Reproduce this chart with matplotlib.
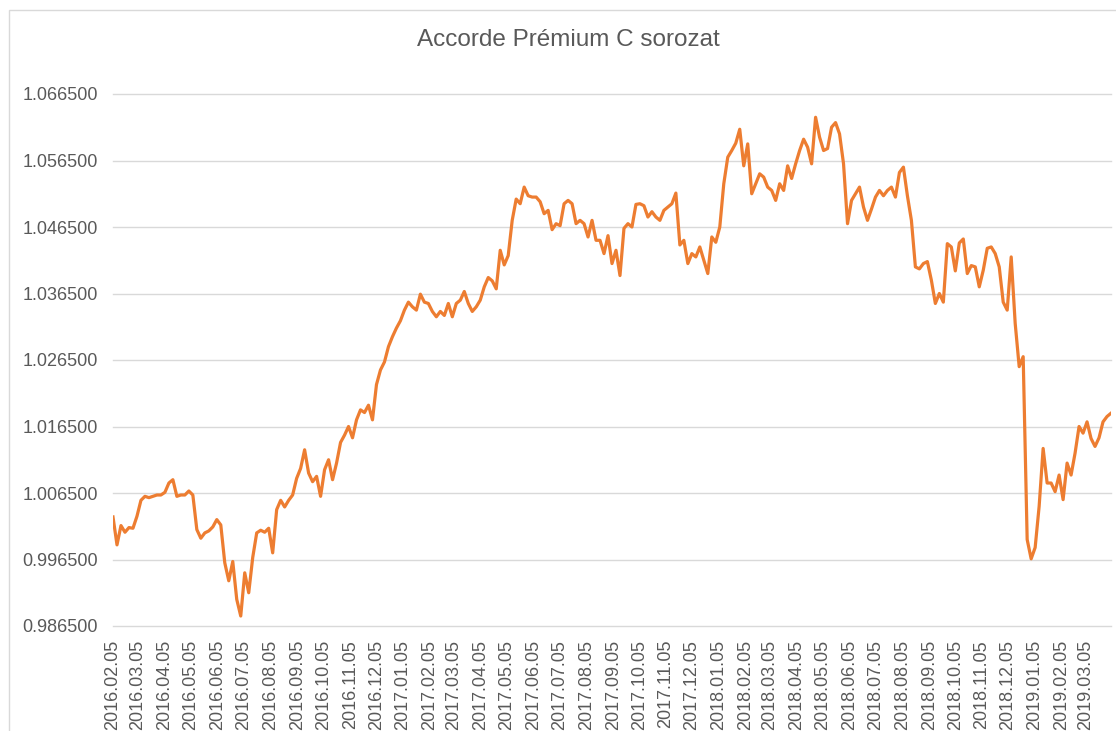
import numpy as np
import pandas as pd
import matplotlib
matplotlib.use('Agg')
import matplotlib.pyplot as plt
import matplotlib.dates as mdates
from matplotlib.patches import Rectangle

plt.rcParams['font.family'] = ['Liberation Sans', 'DejaVu Sans']

title = 'Accorde Prémium C sorozat'
start_date = '2016-02-05'
end_date = '2019-04-03'

# árfolyam (roughly every 4-5 days)
values = [
    1.0029, 0.9987, 1.0016, 1.0006, 1.0013, 1.0012, 1.0030, 1.0054, 1.0060, 1.0058,
    1.0060, 1.0062, 1.0062, 1.0066, 1.0080, 1.0085, 1.0060, 1.0062, 1.0062, 1.0068,
    1.0062, 1.0010, 0.9997, 1.0005, 1.0008, 1.0014, 1.0025, 1.0017, 0.9960, 0.9933,
    0.9962, 0.9905, 0.9880, 0.9945, 0.9915, 0.9968, 1.0005, 1.0009, 1.0006, 1.0012,
    0.9975, 1.0040, 1.0054,
    1.0044, 1.0054, 1.0062, 1.0087, 1.0102, 1.0130, 1.0095, 1.0082, 1.0090, 1.0060,
    1.0100, 1.0115, 1.0085, 1.0110, 1.0141, 1.0152, 1.0165, 1.0148, 1.0175, 1.0190,
    1.0186, 1.0197, 1.0175, 1.0228, 1.0250, 1.0262, 1.0285, 1.0300, 1.0313, 1.0324,
    1.0340, 1.0352, 1.0345, 1.0340, 1.0364, 1.0352, 1.0350, 1.0338, 1.0330, 1.0338,
    1.0332, 1.0350,
    1.0330, 1.0350, 1.0355, 1.0368, 1.0350, 1.0338, 1.0345, 1.0355, 1.0375, 1.0389,
    1.0384, 1.0372, 1.0430, 1.0408, 1.0422, 1.0475, 1.0507, 1.0500, 1.0525, 1.0512,
    1.0510, 1.0510, 1.0503, 1.0485, 1.0490, 1.0461, 1.0470, 1.0467, 1.0500, 1.0505,
    1.0500, 1.0470, 1.0475, 1.0470, 1.0450, 1.0475, 1.0445, 1.0445, 1.0425, 1.0452,
    1.0410, 1.0430, 1.0392,
    1.0463, 1.0470, 1.0465, 1.0499, 1.0500, 1.0497, 1.0480, 1.0488, 1.0480, 1.0475,
    1.0490, 1.0495, 1.0500, 1.0516, 1.0438, 1.0445, 1.0410, 1.0425, 1.0420, 1.0435,
    1.0415, 1.0395, 1.0450, 1.0442, 1.0465, 1.0530, 1.0570, 1.0580, 1.0591, 1.0612,
    1.0557, 1.0590, 1.0515, 1.0530, 1.0545, 1.0540, 1.0525, 1.0520, 1.0505, 1.0530,
    1.0520, 1.0557,
    1.0538, 1.0560, 1.0580, 1.0597, 1.0585, 1.0560, 1.0630, 1.0600, 1.0580, 1.0583,
    1.0615, 1.0622, 1.0605, 1.0560, 1.0470, 1.0505, 1.0515, 1.0525, 1.0495, 1.0475,
    1.0492, 1.0510, 1.0520, 1.0512, 1.0520, 1.0525, 1.0510, 1.0547, 1.0555, 1.0512,
    1.0475, 1.0405, 1.0402, 1.0410, 1.0413, 1.0385, 1.0350, 1.0365, 1.0352, 1.0440,
    1.0435, 1.0399,
    1.0441, 1.0447, 1.0395, 1.0407, 1.0405, 1.0375, 1.0400, 1.0433, 1.0435, 1.0425,
    1.0405, 1.0352, 1.0340, 1.0420, 1.0320, 1.0255, 1.0270, 0.9995, 0.9966, 0.9983,
    1.0045, 1.0132, 1.0080, 1.0080, 1.0067, 1.0092, 1.0055, 1.0110, 1.0092, 1.0125,
    1.0165, 1.0155, 1.0172, 1.0147, 1.0135, 1.0148, 1.0172, 1.0180, 1.0185,
]

yticks = [0.9865, 0.9965, 1.0065, 1.0165, 1.0265, 1.0365, 1.0465, 1.0565, 1.0665]

dates = pd.date_range(start_date, end_date, periods=len(values))

W, H = 1116, 731
fig = plt.figure(figsize=(W / 100, H / 100), dpi=100)
fig.patch.set_facecolor('white')

# chart frame
fig.patches.append(Rectangle((9 / W, -0.1), 1.2, 1 - 10 / H + 0.1,
                             transform=fig.transFigure, fill=False,
                             edgecolor='#d9d9d9', lw=1.0))

ax = fig.add_axes([113 / W, (H - 626) / H, (1111 - 113) / W, (626 - 94) / H])
ax.plot(dates, values, color='#ED7D31', lw=2.3, solid_joinstyle='round')

ax.set_ylim(yticks[0], yticks[-1])
ax.set_yticks(yticks)
ax.set_yticklabels(['%.6f' % v for v in yticks])
ax.set_xlim(dates[0], dates[-1])
ax.xaxis.set_major_locator(mdates.MonthLocator(bymonthday=5))
ax.xaxis.set_major_formatter(mdates.DateFormatter('%Y.%m.%d'))

ax.grid(axis='y', color='#d9d9d9', lw=1.0)
for gl in ax.get_ygridlines():
    gl.set_clip_on(False)
ax.set_axisbelow(True)
for s in ax.spines.values():
    s.set_visible(False)
ax.tick_params(axis='both', length=0, labelsize=13, labelcolor='#595959')
ax.tick_params(axis='x', pad=10, labelrotation=90)
ax.tick_params(axis='y', pad=11)

fig.text(568 / W, 1 - 40 / H, title, ha='center', va='center',
         fontsize=17.5, color='#595959')

fig.savefig('out.png', dpi=100)
